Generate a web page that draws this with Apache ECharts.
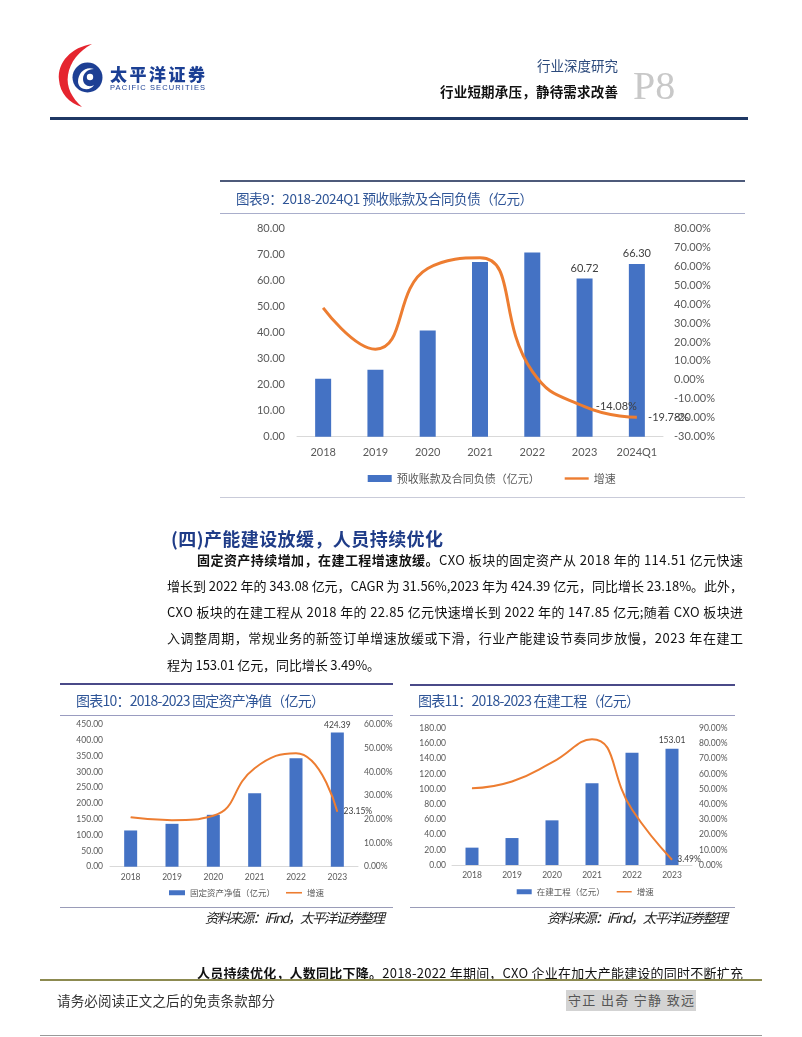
<!DOCTYPE html>
<html><head><meta charset="utf-8">
<script src="https://cdn.jsdelivr.net/npm/echarts@6/dist/echarts.min.js"></script>
<style>
html,body{margin:0;padding:0;background:#fff;}
#page{position:relative;width:802px;height:1037px;overflow:hidden;font-family:"Noto Sans CJK SC",sans-serif;}
#chart{position:absolute;left:0;top:0;width:802px;height:1037px;}
.t{position:absolute;white-space:nowrap;line-height:20px;height:20px;}
.fit{display:inline-block;white-space:nowrap;}
.ln{position:absolute;}
.b{font-weight:700;}
</style>
</head><body>
<div id="page">
<div id="chart"></div>

<!-- header -->
<svg style="position:absolute;left:52px;top:42px" width="62" height="68" viewBox="0 0 62 68">
  <path d="M40,2 C20,5 5,20 7,38 C8,51 17,61 30,65 C20,56 14,45 16,33 C18,20 27,9 40,2 Z" fill="#e5252f"/>
  <circle cx="35.5" cy="35.5" r="15" fill="#1d3f94"/>
  <path d="M26,40 C26,30 34,24 42,27 C36,27 31,31 31,37 C31,43 37,46 42,43 C39,49 27,49 26,40 Z" fill="#fff"/>
  <circle cx="38" cy="35" r="3.2" fill="#fff"/>
</svg>
<div class="t" style="left:110px;top:61px;height:26px;line-height:26px;font-size:17px;font-weight:900;color:#1b3f94;"><span class="fit" data-w="95">太平洋证券</span></div>
<div class="t" style="left:110px;top:82px;font-size:7.5px;height:11px;line-height:11px;color:#1b3f94;font-family:'Liberation Sans',sans-serif;"><span class="fit" data-w="95">PACIFIC SECURITIES</span></div>
<div class="t" style="left:537px;top:55px;font-size:13.5px;color:#2c4a7c;"><span class="fit" data-w="81">行业深度研究</span></div>
<div class="t" style="left:440px;top:81px;font-size:13.5px;font-weight:700;color:#111;"><span class="fit" data-w="178">行业短期承压，静待需求改善</span></div>
<div class="t" style="left:633px;top:64px;height:44px;line-height:44px;font-size:40px;color:#c8c8c8;font-family:'Liberation Serif',serif;">P8</div>
<div class="ln" style="left:50px;top:117px;width:698px;height:3px;background:#1f3864;"></div>

<!-- chart 9 frame -->
<div class="ln" style="left:220px;top:180px;width:525px;height:2px;background:#4d5a7a;"></div>
<div class="t" style="left:236px;top:188px;font-size:13.5px;color:#2f5597;"><span class="fit" data-w="297">图表9：2018-2024Q1 预收账款及合同负债（亿元）</span></div>
<div class="ln" style="left:220px;top:213px;width:525px;height:1px;background:#a9aecb;"></div>
<div class="ln" style="left:220px;top:497px;width:525px;height:1px;background:#c9cbd9;"></div>

<!-- section text -->
<div class="t" style="left:171px;top:526px;height:24px;line-height:24px;font-size:18px;font-weight:700;color:#1f3c88;"><span class="fit" data-w="272">(四)产能建设放缓，人员持续优化</span></div>
<div class="t" style="left:197px;top:550px;font-size:13px;color:#111;"><span class="fit" data-w="546"><span class="b">固定资产持续增加，在建工程增速放缓。</span>CXO 板块的固定资产从 2018 年的 114.51 亿元快速</span></div>
<div class="t" style="left:167px;top:576px;font-size:13px;color:#111;"><span class="fit" data-w="576">增长到 2022 年的 343.08 亿元，CAGR 为 31.56%,2023 年为 424.39 亿元，同比增长 23.18%。此外，</span></div>
<div class="t" style="left:167px;top:602px;font-size:13px;color:#111;"><span class="fit" data-w="576">CXO 板块的在建工程从 2018 年的 22.85 亿元快速增长到 2022 年的 147.85 亿元;随着 CXO 板块进</span></div>
<div class="t" style="left:167px;top:628px;font-size:13px;color:#111;"><span class="fit" data-w="576">入调整周期，常规业务的新签订单增速放缓或下滑，行业产能建设节奏同步放慢，2023 年在建工</span></div>
<div class="t" style="left:167px;top:655px;font-size:13px;color:#111;"><span class="fit" data-w="213">程为 153.01 亿元，同比增长 3.49%。</span></div>

<!-- chart 10 frame -->
<div class="ln" style="left:60px;top:683px;width:333px;height:2px;background:#4a4a88;"></div>
<div class="t" style="left:76px;top:690px;font-size:14px;color:#2f5597;"><span class="fit" data-w="249">图表10：2018-2023 固定资产净值（亿元）</span></div>
<div class="ln" style="left:60px;top:715px;width:333px;height:1px;background:#9a9cc0;"></div>
<div class="ln" style="left:60px;top:907px;width:333px;height:1px;background:#9a9cb8;"></div>
<div class="t" style="left:205px;top:907px;font-size:13.5px;font-style:italic;color:#222;"><span class="fit" data-w="180">资料来源：iFind，太平洋证券整理</span></div>

<!-- chart 11 frame -->
<div class="ln" style="left:410px;top:684px;width:325px;height:2px;background:#4a4a88;"></div>
<div class="t" style="left:418px;top:690px;font-size:14px;color:#2f5597;"><span class="fit" data-w="222">图表11：2018-2023 在建工程（亿元）</span></div>
<div class="ln" style="left:410px;top:715px;width:325px;height:1px;background:#9a9cc0;"></div>
<div class="ln" style="left:410px;top:907px;width:325px;height:1px;background:#9a9cb8;"></div>
<div class="t" style="left:547px;top:907px;font-size:13.5px;font-style:italic;color:#222;"><span class="fit" data-w="181">资料来源：iFind，太平洋证券整理</span></div>

<!-- bottom text + footer -->
<div class="t" style="left:197px;top:963px;font-size:13px;color:#111;"><span class="fit" data-w="546"><span class="b">人员持续优化，人数同比下降。</span>2018-2022 年期间，CXO 企业在加大产能建设的同时不断扩充</span></div>
<div class="ln" style="left:40px;top:979px;width:722px;height:2px;background:#8c8a50;"></div>
<div class="t" style="left:57px;top:990px;font-size:13.5px;color:#333;"><span class="fit" data-w="218">请务必阅读正文之后的免责条款部分</span></div>
<div class="ln" style="left:566px;top:990px;width:130px;height:21px;background:#d3d3d3;"></div>
<div class="t" style="left:568px;top:990px;font-size:13px;color:#555;"><span class="fit" data-w="126">守正 出奇 宁静 致远</span></div>
<div class="ln" style="left:40px;top:1035px;width:722px;height:1px;background:#999;"></div>
</div>

<script>
// ---------- data ----------
const cats9 = ['2018','2019','2020','2021','2022','2023','2024Q1'];
const bar9 = [22.2, 25.7, 40.8, 67.1, 70.67, 60.72, 66.30];
const line9 = [38.0, 16.2, 58.8, 64.4, 4.5, -14.08, -19.78];
const barName9 = '预收账款及合同负债（亿元）';

const cats10 = ['2018','2019','2020','2021','2022','2023'];
const bar10 = [114.51, 135.5, 164.0, 232.5, 343.08, 424.39];
const line10 = [20.8, 19.6, 21.5, 41.5, 47.8, 23.15];
const barName10 = '固定资产净值（亿元）';

const cats11 = ['2018','2019','2020','2021','2022','2023'];
const bar11 = [22.85, 35.5, 58.8, 107.5, 147.85, 153.01];
const line11 = [50.5, 55.0, 67.5, 82.8, 36.5, 3.49];
const barName11 = '在建工程（亿元）';

const lineName = '增速';
const labeled9 = [5, 6];
const labeled10 = [5];
const labeled11 = [5];

// ---------- fit text ----------
document.querySelectorAll('.fit').forEach(el => {
  const target = +el.dataset.w;
  el.style.letterSpacing = '0px';
  const w = el.getBoundingClientRect().width;
  const n = el.textContent.length;
  if (n > 1) el.style.letterSpacing = ((target - w) / (n - 1)) + 'px';
});

// ---------- chart ----------
const FONT = 'Lato, "Noto Sans CJK SC", sans-serif';
const BLUE = '#4472c4', ORANGE = '#ed7d31', GREY = '#595959';
const LINE_ICON = 'path://M0,0 L40,0 L40,4 L0,4 Z';

function withLabels(arr, idx) {
  return arr.map((v, i) => idx.includes(i) ? { value: v, label: { show: true } } : v);
}
function xAx(grid, data, fs, margin) {
  return { type: 'category', gridIndex: grid, data: data,
    axisLine: { lineStyle: { color: '#d9d9d9', width: 1 } }, axisTick: { show: false },
    axisLabel: { color: GREY, fontSize: fs, fontFamily: FONT, margin: margin, interval: 0 } };
}
function yAx(grid, pos, min, max, interval, fs, margin, pct) {
  return { type: 'value', gridIndex: grid, position: pos, min: min, max: max, interval: interval,
    axisLine: { show: false }, axisTick: { show: false }, splitLine: { show: false },
    axisLabel: { color: GREY, fontSize: fs, fontFamily: FONT, margin: margin,
      formatter: v => v.toFixed(2) + (pct ? '%' : '') } };
}
function lineSeries(x, y, data, idx, width, fs, dist) {
  return { name: lineName, type: 'line', xAxisIndex: x, yAxisIndex: y, smooth: true,
    symbol: 'circle', symbolSize: 0.5, showSymbol: true,
    lineStyle: { color: ORANGE, width: width }, itemStyle: { color: ORANGE },
    data: withLabels(data, idx),
    label: { show: false, position: 'right', distance: dist, fontSize: fs, color: '#404040', fontFamily: FONT,
      formatter: p => p.value.toFixed(2) + '%' } };
}
function barSeries(name, x, y, data, idx, bw, fs, dist) {
  return { name: name, type: 'bar', xAxisIndex: x, yAxisIndex: y, barWidth: bw,
    itemStyle: { color: BLUE }, data: withLabels(data, idx),
    label: { show: false, position: 'top', distance: dist, fontSize: fs, color: '#404040', fontFamily: FONT,
      formatter: p => p.value.toFixed(2) } };
}

const chart = echarts.init(document.getElementById('chart'), null, { renderer: 'canvas' });
chart.setOption({
  animation: false,
  backgroundColor: 'transparent',
  grid: [
    { left: 297, top: 228.3, width: 366, height: 208.4 },
    { left: 110, top: 724.3, width: 248, height: 142.4 },
    { left: 452, top: 728.3, width: 240, height: 136.7 }
  ],
  xAxis: [ xAx(0, cats9, 11, 10), xAx(1, cats10, 8.5, 6), xAx(2, cats11, 8.5, 6) ],
  yAxis: [
    yAx(0, 'left', 0, 80, 10, 11, 12, false),
    yAx(0, 'right', -30, 80, 10, 11, 11, true),
    yAx(1, 'left', 0, 450, 50, 8.5, 7, false),
    yAx(1, 'right', 0, 60, 10, 8.5, 6, true),
    yAx(2, 'left', 0, 180, 20, 8.5, 6, false),
    yAx(2, 'right', 0, 90, 10, 8.5, 7, true)
  ],
  legend: [
    { left: 362.7, top: 468, itemWidth: 24, itemHeight: 7, itemGap: 25,
      textStyle: { fontSize: 11, color: GREY, fontFamily: '"Noto Sans CJK SC"' },
      data: [{ name: barName9, icon: 'rect' }, { name: lineName, icon: LINE_ICON }] },
    { left: 164, top: 883.5, itemWidth: 16, itemHeight: 5, itemGap: 11,
      textStyle: { fontSize: 8.5, color: GREY, fontFamily: '"Noto Sans CJK SC"' },
      data: [{ name: barName10, icon: 'rect' }, { name: lineName, icon: LINE_ICON }] },
    { left: 511.7, top: 882.5, itemWidth: 15, itemHeight: 5, itemGap: 12,
      textStyle: { fontSize: 8.5, color: GREY, fontFamily: '"Noto Sans CJK SC"' },
      data: [{ name: barName11, icon: 'rect' }, { name: lineName, icon: LINE_ICON }] }
  ],
  series: [
    barSeries(barName9, 0, 0, bar9, labeled9, 16, 11, 5),
    lineSeries(0, 1, line9, labeled9, 3, 11, 11),
    barSeries(barName10, 1, 2, bar10, labeled10, 13, 8.5, 3),
    lineSeries(1, 3, line10, labeled10, 2, 8.5, 6),
    barSeries(barName11, 2, 4, bar11, labeled11, 13, 8.5, 4),
    lineSeries(2, 5, line11, labeled11, 2, 8.5, 5)
  ]
});
</script>
</body></html>
